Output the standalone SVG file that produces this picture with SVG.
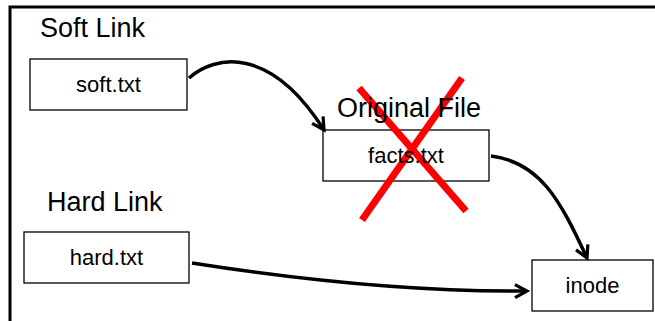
<svg xmlns="http://www.w3.org/2000/svg" width="655" height="321" viewBox="0 0 655 321">
<style>
.box{fill:#fff;stroke:#000;stroke-width:1.3}
.lbl{font-family:"Liberation Sans",Arial,sans-serif;font-size:22px;fill:#000;text-anchor:middle}
.ttl{font-family:"Liberation Sans",Arial,sans-serif;font-size:27px;fill:#000}
.conn{fill:none;stroke:#000;stroke-width:3.5}
.x{stroke:#f00;stroke-width:7}
</style>
<defs>
<marker id="arr" markerWidth="18" markerHeight="18" refX="14" refY="8" orient="auto" markerUnits="userSpaceOnUse" viewBox="0 0 18 16">
<polyline points="2,1.5 14,8 2,14.5" fill="none" stroke="#000" stroke-width="3.2" stroke-linejoin="miter"/>
</marker>
</defs>
<g id="frame">
<path d="M10,321 V7 H655" fill="none" stroke="#000" stroke-width="3"/>
</g>
<g id="titles">
<text class="ttl" x="40" y="37">Soft Link</text>
<text class="ttl" x="47" y="211">Hard Link</text>
</g>
<g id="soft">
<rect class="box" x="30" y="59" width="157" height="51"/>
<text class="lbl" x="108.5" y="92">soft.txt</text>
</g>
<g id="facts">
<rect class="box" x="323" y="130" width="166" height="51"/>
<g id="cross">
<line class="x" x1="359" y1="88" x2="466" y2="211"/>
<line class="x" x1="462" y1="78" x2="362" y2="220"/>
</g>
<text class="ttl" x="337" y="117">Original File</text>
<text class="lbl" x="406" y="163">facts.txt</text>
</g>
<g id="hard">
<rect class="box" x="24" y="232" width="165" height="51"/>
<text class="lbl" x="106.5" y="265">hard.txt</text>
</g>
<g id="inode">
<rect class="box" x="532" y="260" width="121" height="51"/>
<text class="lbl" x="592.5" y="293">inode</text>
</g>
<g id="connectors">
<path class="conn" d="M189,78 C215,55 270,45 324,130" marker-end="url(#arr)"/>
<path class="conn" d="M491,156 C540,162 560,200 587,258" marker-end="url(#arr)"/>
<path class="conn" d="M192,263 C300,280 420,292 527,291" marker-end="url(#arr)"/>
</g>
</svg>
